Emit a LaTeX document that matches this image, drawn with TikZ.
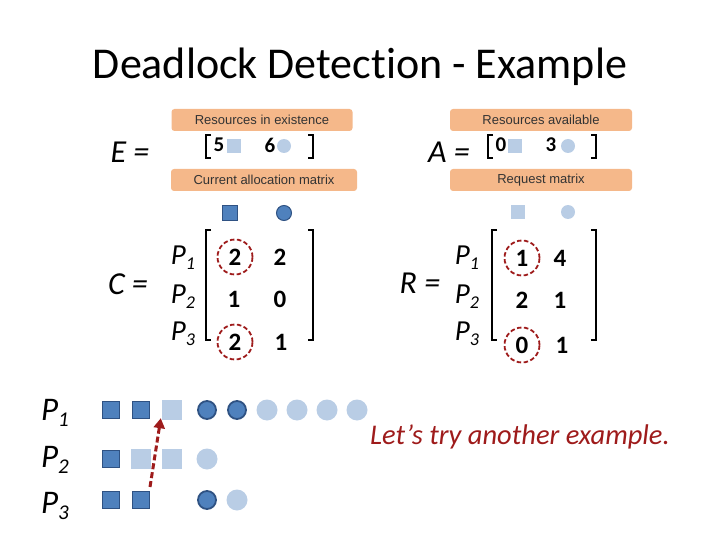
\documentclass[tikz,border=0pt]{standalone}
\usepackage{fontspec}
\setmainfont{Carlito}[Ligatures={NoCommon}]
\newfontfamily\lblfont{Liberation Sans}
\usetikzlibrary{arrows.meta}
\definecolor{dkblue}{HTML}{4F81BD}
\definecolor{dkedge}{HTML}{2F5283}
\definecolor{ltblue}{HTML}{B9CDE5}
\definecolor{orng}{HTML}{F5B88A}
\definecolor{dred}{HTML}{9E1B1B}
\begin{document}
\begin{tikzpicture}[x=1pt,y=-1pt,
  lbl/.style={fill=orng,rounded corners=3pt,minimum height=22pt,inner sep=0pt,font=\lblfont\fontsize{13}{13}\selectfont,text=black!80},
  eqn/.style={font=\fontsize{32}{32}\selectfont\itshape},
  plab/.style={font=\fontsize{29}{29}\selectfont\itshape},
  num/.style={font=\fontsize{25}{25}\selectfont\bfseries},
  vnum/.style={font=\fontsize{21}{21}\selectfont\bfseries},
  brk/.style={line width=2pt},
  dsq/.style={draw=dkedge,fill=dkblue,line width=1.8pt,minimum size=17pt,inner sep=0pt},
  lsq/.style={fill=ltblue,minimum size=20pt,inner sep=0pt},
  dci/.style={circle,draw=dkedge,fill=dkblue,line width=1.8pt,minimum size=18pt,inner sep=0pt},
  lci/.style={circle,fill=ltblue,minimum size=21pt,inner sep=0pt},
  sdsq/.style={draw=dkedge,fill=dkblue,line width=1pt,minimum size=15pt,inner sep=0pt},
  slsq/.style={fill=ltblue,minimum size=14pt,inner sep=0pt},
  sdci/.style={circle,draw=dkedge,fill=dkblue,line width=1pt,minimum size=15pt,inner sep=0pt},
  slci/.style={circle,fill=ltblue,minimum size=14pt,inner sep=0pt},
  ring/.style={circle,draw=dred,dash pattern=on 4.5pt off 2.5pt,line width=1.8pt,minimum size=35pt,inner sep=0pt},
]
\useasboundingbox (0,0) rectangle (720,540);

% title
\node[font=\fontsize{44}{44}\selectfont] (title) at (360,67) {Deadlock Detection - Example};

% E vector
\node[eqn] (Eeq) at (130,152) {E =};
\node[lbl,minimum width=181pt] (lblE) at (262,120) {Resources in existence};
\node[vnum] (e1) at (219,145) {5};
\node[slsq] (e1s) at (234,146) {};
\node[vnum] (e2) at (270,145) {6};
\node[slci] (e2c) at (284,146) {};
\draw[brk] (211,135) -- (206,135) -- (206,158) -- (211,158);
\draw[brk] (308,135) -- (313,135) -- (313,158) -- (308,158);

% C matrix
\node[lbl,minimum width=186pt] (lblC) at (264,180) {Current allocation matrix};
\node[sdsq] (hcs) at (230,213) {};
\node[sdci] (hcc) at (284,213) {};
\node[eqn] (Ceq) at (128,284) {C =};
\node[plab] (cp1) at (183,258) {P\raisebox{-0.35ex}{\fontsize{18}{18}\selectfont 1}};
\node[plab] (cp2) at (183,297) {P\raisebox{-0.35ex}{\fontsize{18}{18}\selectfont 2}};
\node[plab] (cp3) at (183,334) {P\raisebox{-0.35ex}{\fontsize{18}{18}\selectfont 3}};
\draw[brk] (211,230) -- (206,230) -- (206,340) -- (211,340);
\draw[brk] (308,230) -- (313,230) -- (313,340) -- (308,340);
\node[num] (c11) at (235,257) {2};
\node[num] (c12) at (280,257) {2};
\node[num] (c21) at (234,299) {1};
\node[num] (c22) at (280,299) {0};
\node[num] (c31) at (235,342) {2};
\node[num] (c32) at (281,342) {1};
\node[ring] (rc1) at (235,257) {};
\node[ring] (rc3) at (235,342) {};

% A vector
\node[eqn] (Aeq) at (449,152) {A =};
\node[lbl,minimum width=182pt] (lblA) at (541,120) {Resources available};
\node[vnum] (a1) at (501,145) {0};
\node[slsq] (a1s) at (515,146) {};
\node[vnum] (a2) at (551,145) {3};
\node[slci] (a2c) at (568,146) {};
\draw[brk] (493,135) -- (488,135) -- (488,158) -- (493,158);
\draw[brk] (591,135) -- (596,135) -- (596,158) -- (591,158);

% R matrix
\node[lbl,minimum width=182pt] (lblR) at (541,180) {Request matrix};
\node[slsq] (hrs) at (518,212) {};
\node[slci] (hrc) at (568,212) {};
\node[eqn] (Req) at (420,283) {R =};
\node[plab] (rp1) at (467,258) {P\raisebox{-0.35ex}{\fontsize{18}{18}\selectfont 1}};
\node[plab] (rp2) at (467,297) {P\raisebox{-0.35ex}{\fontsize{18}{18}\selectfont 2}};
\node[plab] (rp3) at (467,334) {P\raisebox{-0.35ex}{\fontsize{18}{18}\selectfont 3}};
\draw[brk] (497,230) -- (492,230) -- (492,340) -- (497,340);
\draw[brk] (591,230) -- (596,230) -- (596,340) -- (591,340);
\node[num] (r11) at (522,258) {1};
\node[num] (r12) at (560,258) {4};
\node[num] (r21) at (522,300) {2};
\node[num] (r22) at (560,300) {1};
\node[num] (r31) at (522,345) {0};
\node[num] (r32) at (562,345) {1};
\node[ring] (rr1) at (522,258) {};
\node[ring] (rr3) at (522,345) {};

% bottom rows
\node[font=\fontsize{33}{33}\selectfont\itshape] (bp1) at (55,413) {P\raisebox{-0.35ex}{\fontsize{21}{21}\selectfont 1}};
\node[font=\fontsize{33}{33}\selectfont\itshape] (bp2) at (55,460) {P\raisebox{-0.35ex}{\fontsize{21}{21}\selectfont 2}};
\node[font=\fontsize{33}{33}\selectfont\itshape] (bp3) at (55,506) {P\raisebox{-0.35ex}{\fontsize{21}{21}\selectfont 3}};

\node[dsq] (s11) at (111,410) {};
\node[dsq] (s12) at (141,410) {};
\node[lsq] (s13) at (172,410) {};
\node[dci] (c1a) at (207,410) {};
\node[dci] (c1b) at (237,410) {};
\node[lci] (c1c) at (267,410) {};
\node[lci] (c1d) at (297,410) {};
\node[lci] (c1e) at (327,410) {};
\node[lci] (c1f) at (357,410) {};

\node[dsq] (s21) at (111,459) {};
\node[lsq] (s22) at (141,459) {};
\node[lsq] (s23) at (172,459) {};
\node[lci] (c2a) at (207,459) {};

\node[dsq] (s31) at (111,500) {};
\node[dsq] (s32) at (141,500) {};
\node[dci] (c3a) at (207,500) {};
\node[lci] (c3b) at (237,500) {};

\coordinate (astart) at (150,487);
\draw[dred,dash pattern=on 6pt off 3pt,line width=3pt,-{Triangle[length=10pt,width=11pt]}] (astart) -- ([xshift=-1pt,yshift=2pt]s13.south west);

\node[text=dred,font=\fontsize{28.5}{28.5}\selectfont\itshape] (note) at (520,437) {Let’s try another example.};
\end{tikzpicture}
\end{document}
